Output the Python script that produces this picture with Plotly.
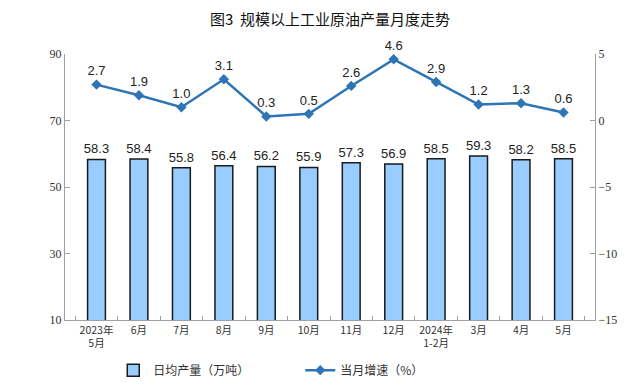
import plotly.graph_objects as go

categories = ["2023年<br>5月", "6月", "7月", "8月", "9月", "10月", "11月", "12月",
              "2024年<br>1-2月", "3月", "4月", "5月"]
output = [58.3, 58.4, 55.8, 56.4, 56.2, 55.9, 57.3, 56.9, 58.5, 59.3, 58.2, 58.5]
growth = [2.7, 1.9, 1.0, 3.1, 0.3, 0.5, 2.6, 4.6, 2.9, 1.2, 1.3, 0.6]
left_ticks = [10, 30, 50, 70, 90]
right_ticks = [-15, -10, -5, 0, 5]

fig = go.Figure()
fig.add_trace(go.Bar(
    x=categories, y=output, name="日均产量（万吨）",
    marker=dict(color="#99CCFF", line=dict(color="#1a1a1a", width=1.5)),
    width=0.42,
    text=[f"{v:.1f}" for v in output], textposition="outside",
    textfont=dict(family="Liberation Sans, Arial", size=13, color="#222"),
    constraintext="none",
    cliponaxis=False,
))
fig.add_trace(go.Scatter(
    x=categories, y=growth, name="当月增速（%）", yaxis="y2",
    mode="lines+markers+text",
    line=dict(color="#2E75B6", width=2.5),
    marker=dict(symbol="diamond", size=8, color="#2E75B6"),
    text=[f"{v:.1f}" for v in growth], textposition="top center",
    textfont=dict(family="Liberation Sans, Arial", size=13, color="#222"),
    cliponaxis=False,
))

fig.update_layout(
    width=638, height=389,
    margin=dict(l=57, r=51, t=46, b=77, autoexpand=False),
    paper_bgcolor="white", plot_bgcolor="white",
    title=dict(text="图3  规模以上工业原油产量月度走势", x=0.5, xanchor="center",
               xref="paper",
               y=0.969, yanchor="middle",
               font=dict(family="Noto Sans CJK SC", size=15, color="#111")),
    xaxis=dict(showline=True, linecolor="#A0A0A0", linewidth=1, tickangle=0,
               automargin=False,
               ticks="inside", tickson="boundaries", ticklen=4, tickcolor="#A0A0A0",
               tickfont=dict(family="Noto Sans CJK SC", size=10.5, color="#333"),
               showgrid=False),
    yaxis=dict(range=[10, 90], tickvals=left_ticks, showline=True, linecolor="#A0A0A0",
               ticks="inside", ticklen=5, tickcolor="#A0A0A0", showgrid=False,
               zeroline=False, automargin=False,
               tickfont=dict(family="Liberation Serif, Times New Roman", size=12, color="#333")),
    yaxis2=dict(range=[-15, 5], tickvals=right_ticks, overlaying="y", side="right",
                showline=True, linecolor="#A0A0A0", ticks="inside", ticklen=5,
                tickcolor="#A0A0A0", showgrid=False, zeroline=False, automargin=False,
                tickfont=dict(family="Liberation Serif, Times New Roman", size=12, color="#333")),
    legend=dict(orientation="h", x=0.165, xanchor="left", xref="container",
                y=0.069, yref="container", yanchor="middle",
                font=dict(family="Noto Sans CJK SC", size=12, color="#333"),
                entrywidth=142, entrywidthmode="pixels", tracegroupgap=0),
    showlegend=True,
    bargap=0.5,
)

fig.write_html("out.html")
